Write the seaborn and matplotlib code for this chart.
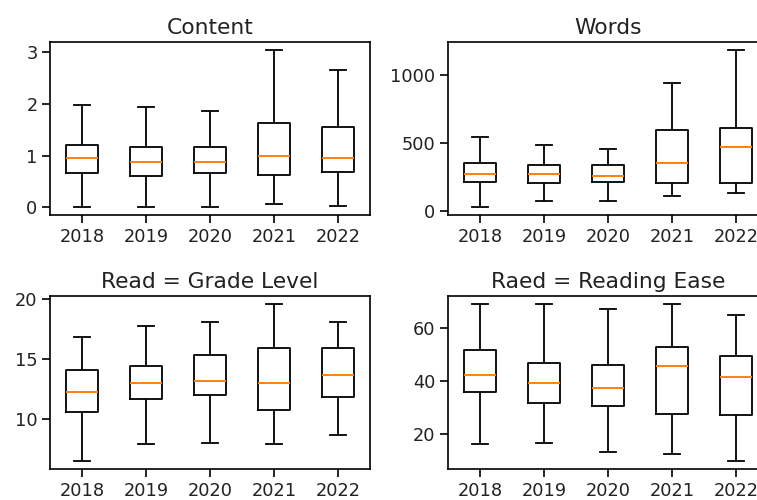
import matplotlib
matplotlib.use("Agg")
import matplotlib.pyplot as plt
import seaborn as sns
import pandas as pd

years = ["2018", "2019", "2020", "2021", "2022"]

# five-number summaries per year: [low whisker, Q1, median, Q3, high whisker]
content_stats = [
    [0.00, 0.67, 0.95, 1.20, 1.98],
    [0.00, 0.60, 0.875, 1.17, 1.94],
    [0.00, 0.67, 0.875, 1.17, 1.87],
    [0.065, 0.63, 0.99, 1.63, 3.05],
    [0.03, 0.69, 0.95, 1.555, 2.66],
]
words_stats = [
    [25, 212, 269, 353, 541],
    [67, 200, 269, 338, 484],
    [67, 212, 254, 338, 457],
    [106, 200, 348, 593, 946],
    [133, 200, 472, 610, 1188],
]
grade_stats = [
    [6.48, 10.58, 12.24, 14.10, 16.81],
    [7.90, 11.66, 13.02, 14.38, 17.73],
    [8.00, 11.97, 13.19, 15.29, 18.06],
    [7.90, 10.75, 13.02, 15.87, 19.58],
    [8.64, 11.83, 13.63, 15.87, 18.06],
]
ease_stats = [
    [16.2, 35.9, 42.1, 51.7, 69.0],
    [16.7, 31.7, 39.4, 46.8, 69.0],
    [13.3, 30.5, 37.4, 46.1, 66.9],
    [12.6, 27.7, 45.5, 52.9, 69.0],
    [9.9, 27.2, 41.5, 49.5, 64.8],
]
titles = ["Content", "Words", "Read = Grade Level", "Raed = Reading Ease"]

plt.rcParams.update({
    "axes.linewidth": 1.2,
    "xtick.major.width": 1.2,
    "ytick.major.width": 1.2,
    "xtick.major.size": 5.5,
    "ytick.major.size": 5.5,
    "xtick.labelsize": 12.8,
    "ytick.labelsize": 12.8,
    "axes.titlesize": 15.7,
    "text.color": "#222222",
    "xtick.labelcolor": "#222222",
    "ytick.labelcolor": "#222222",
    "font.family": ["DejaVu Sans"],
})

fig = plt.figure(figsize=(7.57, 5), dpi=100)
W, H = 757, 500
aw, ah = 320, 173
positions = [(50, 215), (448, 215), (50, 469), (448, 469)]

panels = [content_stats, words_stats, grade_stats, ease_stats]
for (lx, by), stats, title in zip(positions, panels, titles):
    ax = fig.add_axes([lx / W, (H - by) / H, aw / W, ah / H])
    rows = []
    for yr, s in zip(years, stats):
        for v in s:
            rows.append({"year": yr, "value": v})
    df = pd.DataFrame(rows)
    sns.boxplot(data=df, x="year", y="value", order=years, ax=ax,
                fill=False, color="black", linewidth=1.3, width=0.5,
                whis=(0, 100), showfliers=False,
                medianprops=dict(color="#ff7f0e", linewidth=1.4))
    ax.set_xlabel("")
    ax.set_ylabel("")
    ax.set_title(title, color="#222222")
    ax.set_xlim(-0.5, 4.5)

fig.savefig("out.png", dpi=100)
